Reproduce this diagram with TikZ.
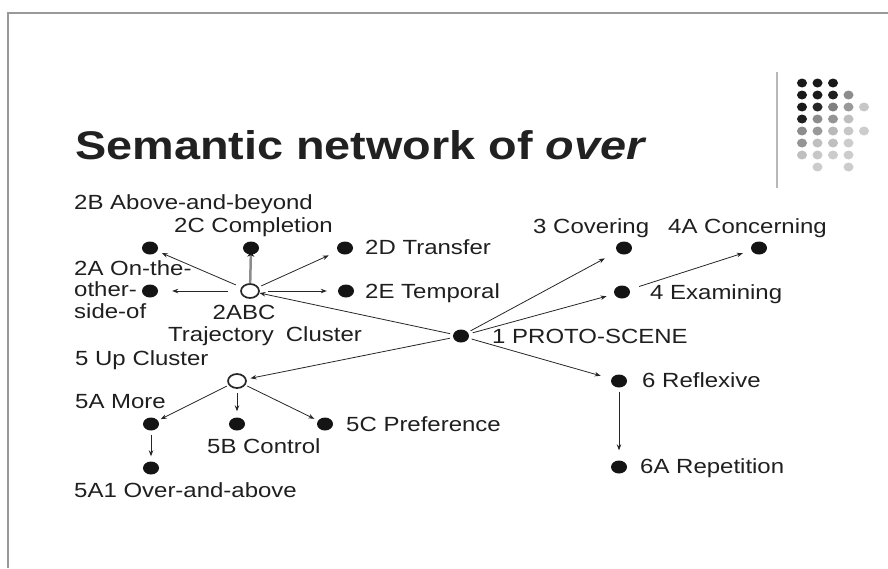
\documentclass[tikz,border=0pt]{standalone}
\usepackage{fontspec}
\setmainfont{Liberation Sans}[FakeStretch=1.17]
\usetikzlibrary{shapes.geometric,arrows.meta}
\newcommand\lblfont{\fontsize{20.5}{21.5}\selectfont}
\newcommand\headfont{\fontsize{40}{48}\selectfont\bfseries}
\begin{document}
\begin{tikzpicture}[x=1pt,y=-1pt,
  dot/.style={ellipse,fill=black!92,minimum width=16pt,minimum height=13pt,inner sep=0pt},
  hub/.style={ellipse,draw=black!85,line width=1.7pt,minimum width=18pt,minimum height=14pt,inner sep=0pt},
  lbl/.style={font=\lblfont,text=black!88,inner sep=0pt,anchor=base west},
  arr/.style={draw=black!85,line width=0.8pt,-{Stealth[length=6pt,width=4.5pt]}}
]
\useasboundingbox (0,0) rectangle (888,568);

% slide frame
\draw[black!40,line width=2.5pt] (8,568) -- (8,13) -- (888,13);

% corner ornament: rule and dot grid
\draw[black!28,line width=1.5pt] (777,72) -- (777,188);
\foreach \c/\r/\k in {1/1/90,2/1/90,3/1/90,
                      1/2/90,2/2/90,3/2/88,4/2/45,
                      1/3/90,2/3/85,3/3/50,4/3/40,5/3/22,
                      1/4/88,2/4/45,3/4/42,4/4/25,
                      1/5/45,2/5/40,3/5/28,4/5/22,5/5/20,
                      1/6/42,2/6/25,3/6/25,4/6/20,
                      1/7/25,2/7/22,3/7/20,4/7/20,
                      2/8/20,4/8/20}
  \fill[black!\k] ({786.5+15.5*\c},{71+12*\r}) ellipse [x radius=5, y radius=4.5];

% heading
\node[anchor=base west,inner sep=0pt,font=\headfont,text=black!87] (head) at (75,159)
  {Semantic network of \textit{over}};

% sense nodes
\node[dot] (d2B) at (150,248) {};
\node[dot] (d2C) at (251,248) {};
\node[dot] (d2D) at (345,248) {};
\node[dot] (d2A) at (150,291) {};
\node[hub] (q)   at (250,291) {};
\node[dot] (d2E) at (346,291) {};
\node[dot] (p1)  at (461,336) {};
\node[dot] (d3)  at (624,248) {};
\node[dot] (d4A) at (759,248) {};
\node[dot] (d4)  at (622,292) {};
\node[hub] (u5)  at (237,381) {};
\node[dot] (d5A) at (151,424) {};
\node[dot] (d5B) at (237,424) {};
\node[dot] (d5C) at (325,424) {};
\node[dot] (d5A1) at (151,468) {};
\node[dot] (d6)  at (619,381) {};
\node[dot] (d6A) at (619,467) {};

% labels
\node[lbl] (l2B) at (74,209) {2B Above-and-beyond};
\node[lbl] (l2C) at (174,232) {2C Completion};
\node[lbl] (l2D) at (365,254) {2D Transfer};
\node[lbl] (l2E) at (365,298) {2E Temporal};
\node[lbl,anchor=north west,align=left] (l2A) at (74,260) {2A On-the-\\other-\\side-of};
\node[lbl,anchor=base] (l2ABC) at (244,319) {2ABC};
\node[lbl] (ltraj) at (168,341) {Trajectory\hspace{12pt}Cluster};
\node[lbl] (l1) at (492,343) {1 PROTO-SCENE};
\node[lbl] (l3) at (533,233) {3 Covering};
\node[lbl] (l4A) at (668,233) {4A Concerning};
\node[lbl] (l4) at (650,299) {4 Examining};
\node[lbl] (l5) at (75,365) {5 Up Cluster};
\node[lbl] (l5A) at (75,408) {5A More};
\node[lbl] (l5B) at (207,453) {5B Control};
\node[lbl] (l5C) at (346,431) {5C Preference};
\node[lbl] (l5A1) at (74,497) {5A1 Over-and-above};
\node[lbl] (l6) at (642,387) {6 Reflexive};
\node[lbl] (l6A) at (640,473) {6A Repetition};

% links from the proto-scene
\draw[arr,shorten <=3pt] (p1) -- (q);
\draw[arr,shorten <=3pt,shorten >=4pt] (p1) -- (u5);
\draw[arr,shorten <=3pt,shorten >=14pt] (p1) -- (d3);
\draw[arr,shorten <=4pt,shorten >=8pt] (p1) -- (d4);
\draw[arr,shorten <=3pt,shorten >=11pt] (p1) -- (d6);
\draw[arr,shorten <=10pt,shorten >=9pt] (d4) -- (d4A);
\draw[arr,shorten <=4pt,shorten >=10pt] (d6) -- (d6A);

% trajectory cluster
\draw[arr,shorten <=6pt,shorten >=5pt] (q) -- (d2B);
\draw[draw=black!45,line width=2.5pt,shorten >=-3pt,
      -{Stealth[length=5pt,width=7pt,color=black!92]}] (q) -- (d2C);
\draw[arr,shorten <=3pt,shorten >=10pt] (q) -- (d2D);
\draw[arr,shorten <=12pt,shorten >=14pt] (q) -- (d2A);
\draw[arr,shorten <=8pt,shorten >=11pt] (q) -- (d2E);

% up cluster
\draw[arr,shorten <=2pt,shorten >=3pt] (u5) -- (d5A);
\draw[arr,shorten <=4pt,shorten >=6pt] (u5) -- (d5B);
\draw[arr,shorten <=2pt,shorten >=4pt] (u5) -- (d5C);
\draw[arr,shorten <=4pt,shorten >=5pt] (d5A) -- (d5A1);
\end{tikzpicture}
\end{document}
